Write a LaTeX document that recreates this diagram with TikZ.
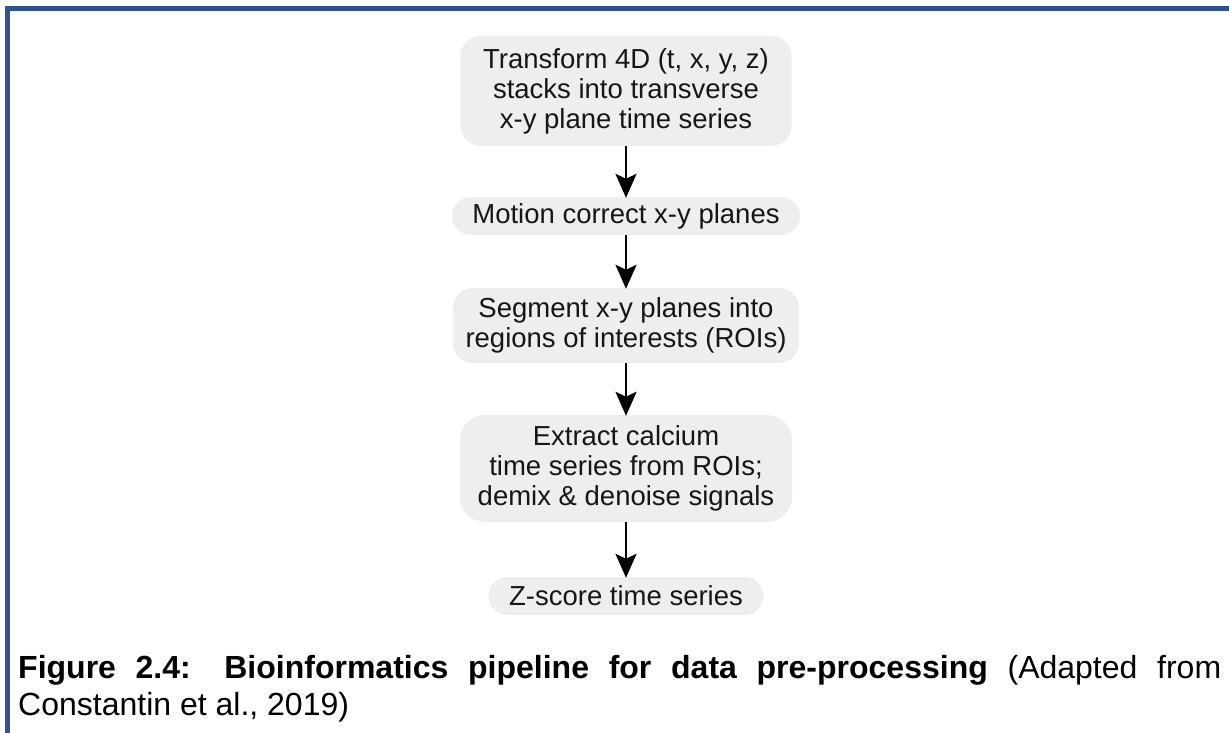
\documentclass[tikz,border=0pt]{standalone}
\usepackage{fontspec}
\setmainfont{Liberation Sans}
\usetikzlibrary{arrows.meta,positioning}
\definecolor{frameblue}{RGB}{47,84,150}
\definecolor{boxgray}{RGB}{237,238,237}
\definecolor{inkdark}{RGB}{22,22,22}
\tikzset{
  stagebox/.style={fill=boxgray, draw=none, rounded corners=#1, inner sep=0pt,
    align=center, text=inkdark, font=\fontsize{27.5}{30}\selectfont},
  stagebox/.default=20pt,
  flowarrow/.style={draw=black, line width=2.6pt,
    -{Stealth[length=24pt,width=21pt,inset=5pt]}, shorten >=-1pt},
  framebar/.style={draw=frameblue, line width=5pt},
  captionline/.style={anchor=base west, inner sep=0pt, text=black,
    font=\fontsize{32}{37}\selectfont}
}
\begin{document}
\begin{tikzpicture}[x=1pt,y=-1pt]
  \useasboundingbox (0,0) rectangle (1229,733);
  % frame of the figure panel
  \coordinate (frameTL) at (7.5,8.5);
  \coordinate (frameTR) at (1229,8.5);
  \coordinate (frameBL) at (7.5,733);
  \draw[framebar] (frameBL) -- (frameTL) -- (frameTR);

  % pipeline stages, all centred on one vertical axis
  \node[stagebox, minimum width=331pt, minimum height=110pt] (transform) at (626,91)
    {Transform 4D (t, x, y, z)\\ stacks into transverse\\ x-y plane time series};
  \node[stagebox=19pt, minimum width=348pt, minimum height=38pt] (motion) at (626,216)
    {Motion correct x-y planes};
  \node[stagebox, minimum width=346pt, minimum height=75pt] (segment) at (626,325.5)
    {Segment x-y planes into\\ regions of interests (ROIs)};
  \node[stagebox=25pt, minimum width=332pt, minimum height=107pt] (extract) at (626,468.5)
    {Extract calcium\\ time series from ROIs;\\ demix \& denoise signals};
  \node[stagebox=19pt, minimum width=275pt, minimum height=38pt] (zscore) at (626,596)
    {Z-score time series};

  % connectors between stages
  \draw[flowarrow] (transform.south) -- (motion.north);
  \draw[flowarrow] (motion.south) -- (segment.north);
  \draw[flowarrow] (segment.south) -- (extract.north);
  \draw[flowarrow] (extract.south) -- (zscore.north);

  % caption
  \node[captionline] (caption1) at (18,678)
    {\makebox[1203pt][s]{\bfseries Figure 2.4: Bioinformatics pipeline for data pre-processing \mdseries (Adapted from}};
  \node[captionline] (caption2) at (18,715) {Constantin et al., 2019)};
\end{tikzpicture}
\end{document}
